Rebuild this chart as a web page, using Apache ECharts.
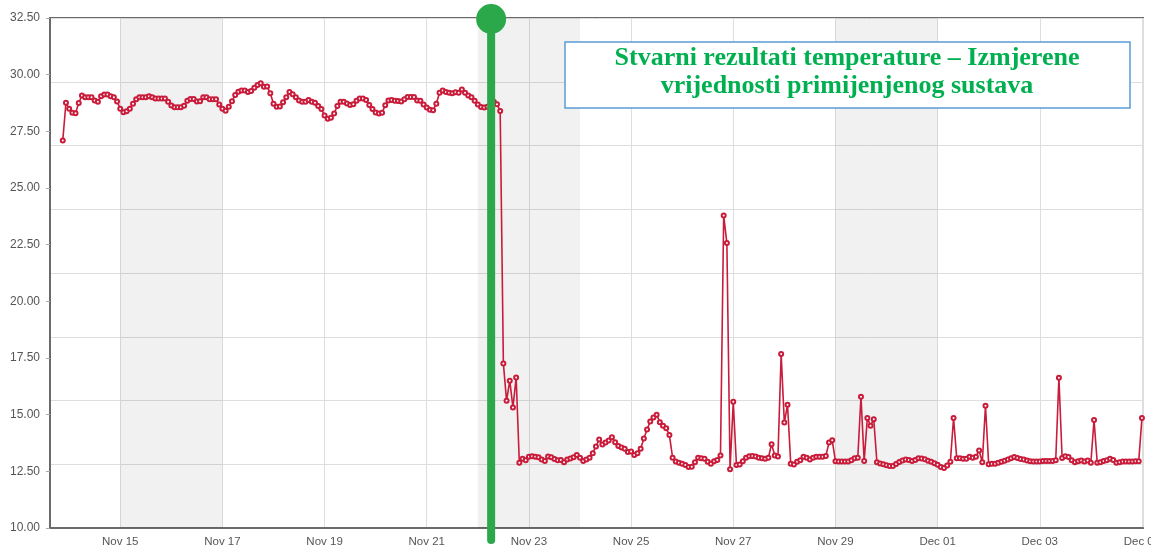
<!DOCTYPE html>
<html>
<head>
<meta charset="utf-8">
<script src="https://cdn.jsdelivr.net/npm/echarts@6/dist/echarts.min.js"></script>
<style>
html,body{margin:0;padding:0;background:#fff;}
#chart{width:1151px;height:546px;}
</style>
</head>
<body>
<div id="chart"></div>
<script>
// ---- data ----
const startTime = [2014, 10, 13, 21, 0];   // Nov 13 2014 21:00 (local)
const stepMinutes = 90;
const temps = [
27.1,28.76,28.5,28.32,28.3,28.75,29.08,29.0,29.0,29.0,
28.86,28.8,29.05,29.12,29.12,29.05,29.0,28.82,28.5,28.34,
28.39,28.5,28.72,28.92,29.0,29.0,29.0,29.05,29.0,28.95,
28.95,28.95,28.95,28.8,28.64,28.56,28.56,28.56,28.63,28.85,
28.93,28.93,28.82,28.83,29.0,29.0,28.92,28.92,28.92,28.68,
28.5,28.41,28.58,28.83,29.1,29.25,29.3,29.3,29.23,29.28,
29.42,29.54,29.62,29.47,29.48,29.18,28.72,28.58,28.6,28.78,
29.0,29.24,29.14,29.0,28.86,28.8,28.8,28.88,28.8,28.76,
28.62,28.48,28.2,28.05,28.1,28.29,28.62,28.8,28.8,28.73,
28.66,28.7,28.85,28.95,28.95,28.88,28.66,28.48,28.33,28.29,
28.32,28.65,28.86,28.88,28.85,28.84,28.82,28.92,29.02,29.02,
29.01,28.86,28.85,28.68,28.55,28.45,28.43,28.72,29.2,29.3,
29.24,29.2,29.18,29.22,29.2,29.35,29.2,29.08,29.0,28.85,
28.68,28.57,28.55,28.58,28.65,28.8,28.7,28.4,17.26,15.61,
16.5,15.32,16.64,12.88,13.05,12.99,13.14,13.16,13.14,13.12,
13.02,12.96,13.15,13.12,13.04,12.99,13.0,12.9,13.02,13.07,
13.12,13.22,13.1,12.96,13.02,13.1,13.3,13.6,13.9,13.68,
13.77,13.86,14.0,13.78,13.62,13.55,13.5,13.35,13.38,13.22,
13.3,13.5,13.95,14.35,14.7,14.87,15.0,14.67,14.51,14.4,
14.1,13.1,12.93,12.88,12.84,12.78,12.69,12.7,12.9,13.1,
13.08,13.05,12.92,12.84,12.95,13.0,13.2,23.79,22.57,12.59,
15.57,12.78,12.8,12.94,13.1,13.16,13.18,13.15,13.1,13.08,
13.06,13.1,13.7,13.2,13.15,17.68,14.65,15.44,12.84,12.8,
12.92,12.99,13.14,13.1,13.02,13.1,13.14,13.14,13.14,13.18,
13.77,13.87,12.95,12.93,12.93,12.93,12.93,12.99,13.08,13.1,
15.79,12.96,14.85,14.51,14.8,12.9,12.85,12.81,12.77,12.74,
12.74,12.82,12.91,12.98,13.02,13.0,12.96,13.0,13.08,13.07,
13.03,12.97,12.92,12.86,12.79,12.69,12.65,12.76,12.92,14.85,
13.08,13.08,13.05,13.06,13.14,13.1,13.14,13.42,12.9,15.39,
12.81,12.84,12.84,12.88,12.92,12.97,13.02,13.08,13.13,13.09,
13.04,13.02,12.98,12.94,12.93,12.93,12.93,12.96,12.96,12.96,
12.96,12.99,16.63,13.09,13.16,13.13,12.99,12.9,12.95,12.98,
12.93,12.98,12.88,14.76,12.88,12.9,12.96,12.99,13.05,13.0,
12.88,12.9,12.93,12.93,12.93,12.93,12.95,12.95,14.85
];
const axisStart = [2014, 10, 13, 15, 0];
const axisEnd = [2014, 11, 5, 0, 30];
const yMin = 10, yMax = 32.5, yStep = 2.5;
const weekendBands = [
  [[2014, 10, 15], [2014, 10, 17]],
  [[2014, 10, 22], [2014, 10, 24]],
  [[2014, 10, 29], [2014, 11, 1]]
];
const markerTime = [2014, 10, 22, 6, 15];
const monthNames = ['Jan','Feb','Mar','Apr','May','Jun','Jul','Aug','Sep','Oct','Nov','Dec'];
const titleLines = ['Stvarni rezultati temperature \u2013 Izmjerene', 'vrijednosti primijenjenog sustava'];

// ---- build ----
function ts(a){ return new Date(a[0], a[1], a[2], a[3]||0, a[4]||0).getTime(); }
const t0 = ts(startTime);
const seriesData = temps.map((v, i) => [t0 + i * stepMinutes * 60000, v]);
const DAY = 86400000;

const chart = echarts.init(document.getElementById('chart'));
const red = '#c91b3a';
const labelFont = 'Liberation Sans, Arial, sans-serif';
const titleFont = 'bold 26px "Liberation Serif", "Times New Roman", serif';

chart.setOption({
  animation: false,
  backgroundColor: '#ffffff',
  grid: { left: 50, right: 8, top: 18, bottom: 18, show: true, borderColor: '#6a6a6a', borderWidth: 2,
    backgroundColor: 'transparent', containLabel: false, outerBoundsMode: 'none' },
  xAxis: {
    type: 'time',
    min: ts(axisStart), max: ts(axisEnd),
    splitNumber: 10, minInterval: 2 * DAY, maxInterval: 2 * DAY,
    axisLine: { show: true, lineStyle: { color: '#6a6a6a', width: 2 } },
    axisTick: { show: false },
    splitLine: { show: true, lineStyle: { color: '#dedede', width: 1 } },
    axisLabel: {
      color: '#555', fontSize: 11.5, fontFamily: labelFont, margin: 8,
      showMinLabel: false, hideOverlap: false,
      formatter: function (val) {
        const d = new Date(val);
        return monthNames[d.getMonth()] + ' ' + String(d.getDate()).padStart(2, '0');
      }
    }
  },
  yAxis: [
    {
      type: 'value', min: yMin, max: yMax, interval: yStep,
      axisLine: { show: true, lineStyle: { color: '#6a6a6a', width: 2 } },
      axisTick: { show: true, length: 4, lineStyle: { color: '#aaa' } },
      splitLine: { show: false },
      axisLabel: { color: '#555', fontSize: 12, fontFamily: labelFont, margin: 10,
        formatter: v => v.toFixed(2) }
    },
    {
      type: 'value', min: 0, max: 8, interval: 1, position: 'left',
      axisLine: { show: false }, axisTick: { show: false }, axisLabel: { show: false },
      splitLine: { show: true, lineStyle: { color: '#dedede', width: 1 } }
    }
  ],
  series: [{
    type: 'line',
    data: seriesData,
    yAxisIndex: 0,
    showAllSymbol: true,
    symbol: 'emptyCircle',
    symbolSize: 4,
    lineStyle: { color: red, width: 1.6 },
    itemStyle: { color: red, borderWidth: 1 },
    markArea: {
      silent: true,
      itemStyle: { color: 'rgba(0,0,0,0.055)' },
      data: weekendBands.map(b => [{ xAxis: ts(b[0]) }, { xAxis: ts(b[1]) }])
    },
    z: 3
  }]
});

const mx = chart.convertToPixel({ xAxisIndex: 0 }, ts(markerTime));
const topY = chart.convertToPixel({ yAxisIndex: 0 }, yMax);
chart.setOption({
  graphic: [
    { type: 'line', z: 100, shape: { x1: mx, y1: topY, x2: mx, y2: 540 },
      style: { stroke: '#2aa84a', lineWidth: 8, lineCap: 'round' } },
    { type: 'circle', z: 101, shape: { cx: mx, cy: topY + 1, r: 15 },
      style: { fill: '#2aa84a' } },
    { type: 'rect', z: 90, shape: { x: 565, y: 42, width: 565, height: 66 },
      style: { fill: '#ffffff', stroke: '#5b9bd5', lineWidth: 1.5 } },
    { type: 'text', z: 91, x: 847, y: 58,
      style: { text: titleLines[0], fill: '#00b050', font: titleFont, align: 'center', verticalAlign: 'middle' } },
    { type: 'text', z: 91, x: 847, y: 86,
      style: { text: titleLines[1], fill: '#00b050', font: titleFont, align: 'center', verticalAlign: 'middle' } }
  ]
});
</script>
</body>
</html>
